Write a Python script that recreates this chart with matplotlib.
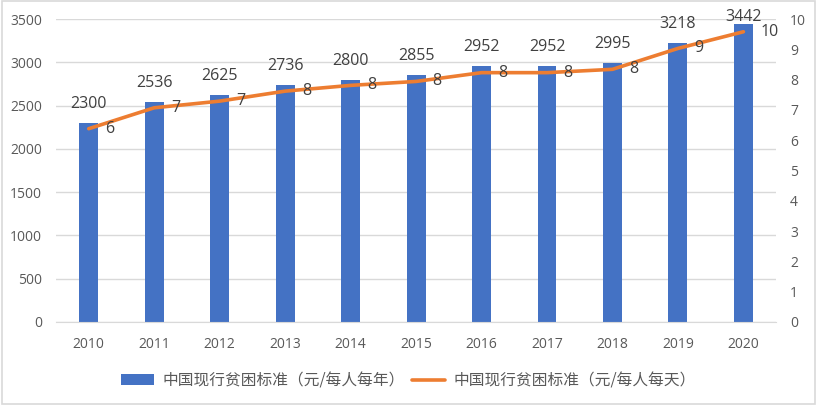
import matplotlib
matplotlib.use("Agg")
import matplotlib.pyplot as plt
from matplotlib.patches import Rectangle
import numpy as np

plt.rcParams['font.family'] = ['Noto Sans CJK SC', 'DejaVu Sans']

years = ['2010', '2011', '2012', '2013', '2014', '2015', '2016', '2017', '2018', '2019', '2020']
yearly = [2300, 2536, 2625, 2736, 2800, 2855, 2952, 2952, 2995, 3218, 3442]
daily = [6.38, 7.07, 7.29, 7.62, 7.81, 7.94, 8.23, 8.23, 8.34, 9.03, 9.58]
label_year = '中国现行贫困标准（元/每人每年）'
label_day = '中国现行贫困标准（元/每人每天）'

BLUE = '#4472C4'
ORANGE = '#ED7D31'
GRID = '#d9d9d9'
TICK = '#595959'
LBL = '#404040'
num_font = 'Open Sans'

fig = plt.figure(figsize=(8.17, 4.05), dpi=100)
fig.patches.append(Rectangle((0.002, 0.003), 0.996, 0.994, transform=fig.transFigure,
                             fill=False, edgecolor='#d9d9d9', linewidth=1.2))
ax = fig.add_axes([0.0685, 0.205, 0.8815, 0.748])
ax2 = ax.twinx()

x = np.arange(len(years))
bars = ax.bar(x, yearly, width=0.29, color=BLUE, zorder=2, label=label_year)
ax.set_xlim(-0.5, len(years) - 0.5)
ax.set_ylim(0, 3500)
ax.set_yticks(np.arange(0, 3501, 500))
ax.yaxis.grid(True, color=GRID, linewidth=1)
ax.set_axisbelow(True)
for s in ['top', 'right', 'left']:
    ax.spines[s].set_visible(False)
ax.spines['bottom'].set_color(GRID)
ax.tick_params(axis='both', length=0, colors=TICK, labelsize=10)
ax.tick_params(axis='y', pad=10)
ax.tick_params(axis='x', pad=11)
ax.set_xticks(x)
ax.set_xticklabels(years)
for t in ax.get_xticklabels() + ax.get_yticklabels():
    t.set_fontfamily(num_font)

# bar value labels: ~19 px above the bar top, kept inside the chart area near the top
px_per_unit = ax.get_window_extent().height / 3500.0
for xi, v in zip(x, yearly):
    yc = min(v + 19 / px_per_unit, 3500 + 2.5 / px_per_unit)
    ax.text(xi, yc, str(v), ha='center', va='center', fontsize=11.5,
            color=LBL, family=num_font, clip_on=False)

line, = ax2.plot(x, daily, color=ORANGE, linewidth=2.6, solid_capstyle='round', zorder=3, label=label_day)
ax2.set_ylim(0, 10)
ax2.set_yticks(np.arange(0, 11, 1))
for s in ['top', 'right', 'left', 'bottom']:
    ax2.spines[s].set_visible(False)
ax2.tick_params(axis='y', length=0, colors=TICK, labelsize=10, pad=10)
for t in ax2.get_yticklabels():
    t.set_fontfamily(num_font)
for xi, v in zip(x, daily):
    ax2.annotate(f'{v:.0f}', (xi, v), xytext=(12, 0), textcoords='offset points',
                 ha='left', va='center', fontsize=11.5, color=LBL, family=num_font)

leg = fig.legend(handles=[bars, line], labels=[label_year, label_day], loc='center',
                 bbox_to_anchor=(0.5, 0.06), ncol=2, frameon=False, fontsize=11.3,
                 handlelength=2.1, handleheight=0.75, handletextpad=0.5, columnspacing=0.5)
for t in leg.get_texts():
    t.set_color(TICK)

fig.savefig('out.png', dpi=100)
